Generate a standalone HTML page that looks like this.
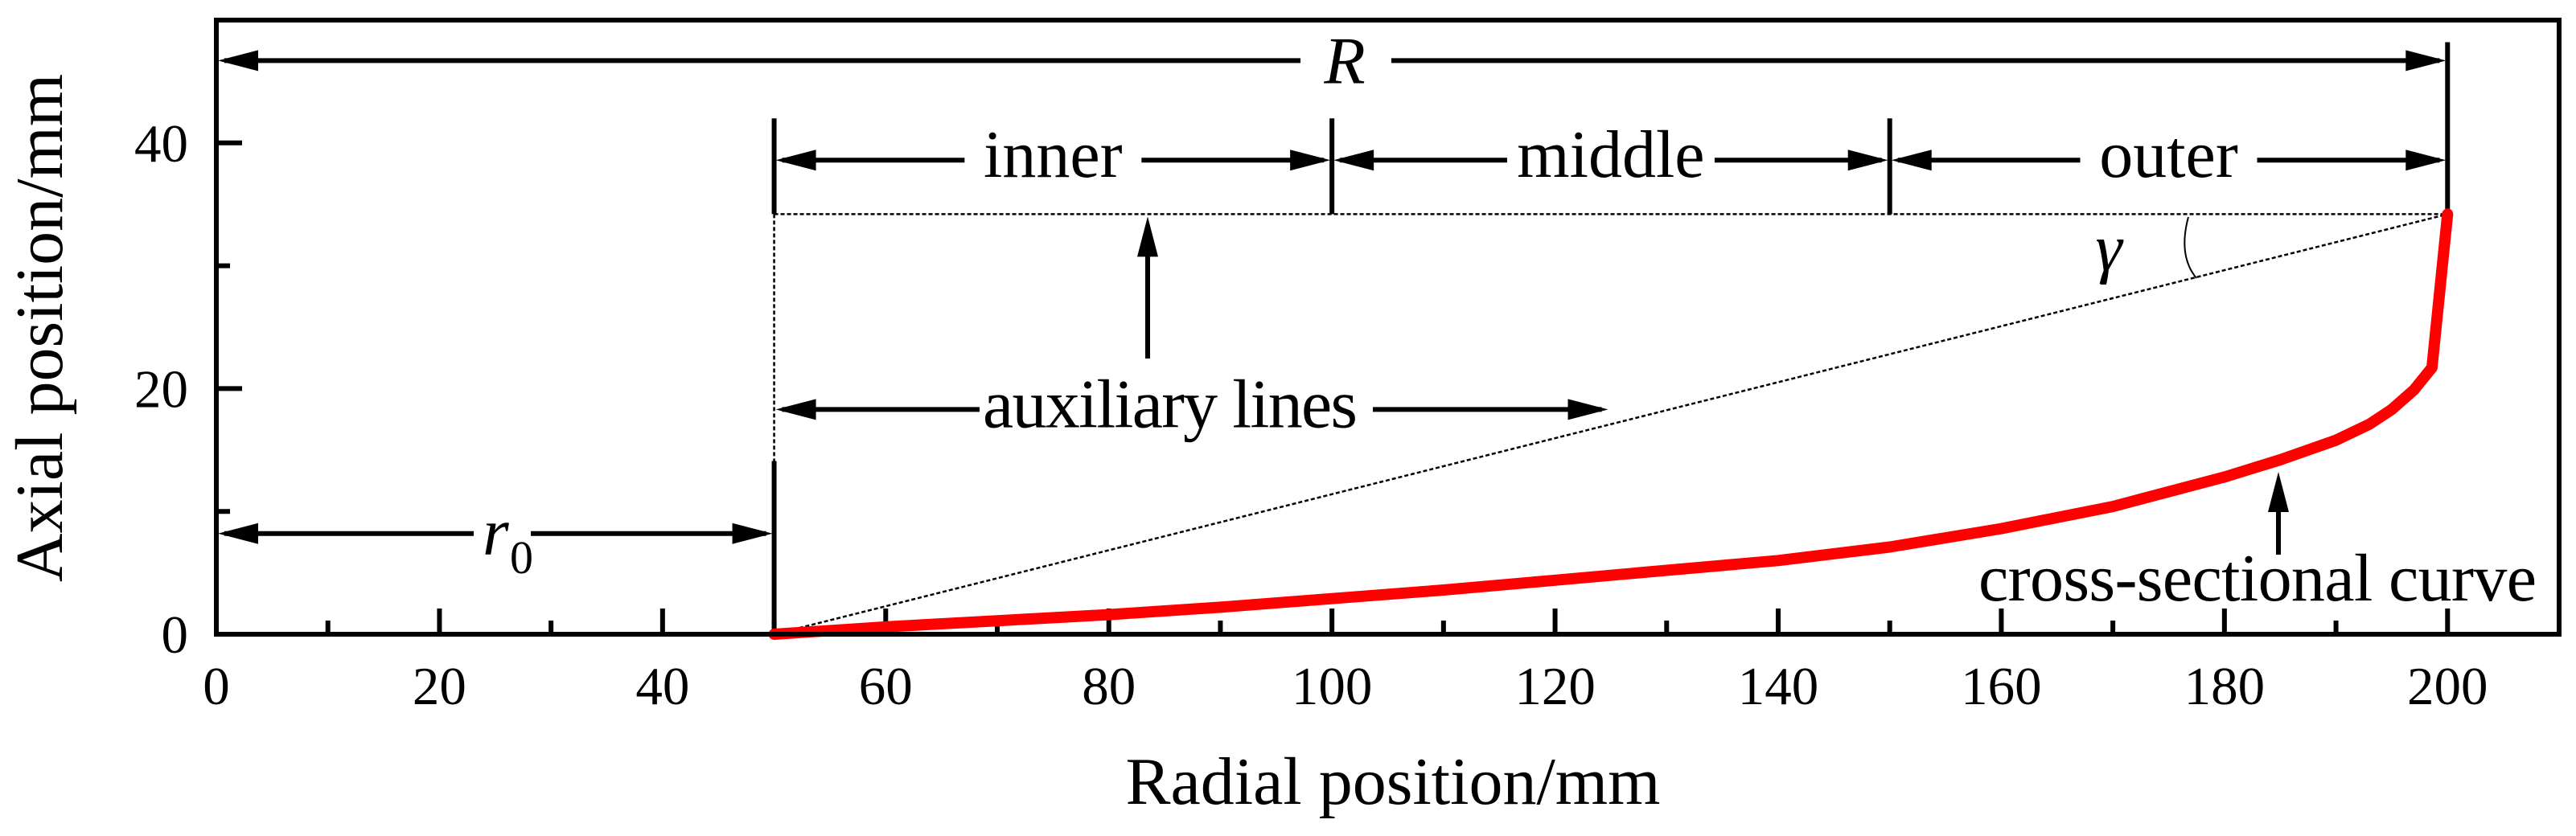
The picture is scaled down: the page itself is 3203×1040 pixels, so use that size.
<!DOCTYPE html>
<html><head><meta charset="utf-8">
<style>
html,body{margin:0;padding:0;background:#fff;}
svg{display:block;}
svg text{font-family:"Liberation Serif","Times New Roman",serif;}
</style></head>
<body>
<svg id="chart" width="3203" height="1040" viewBox="0 0 3203 1040" xmlns="http://www.w3.org/2000/svg">
<rect width="3203" height="1040" fill="#fff"/>
</svg>
<script>
const curveX = [50, 60, 70, 80, 90, 100, 110, 120, 130, 140, 150, 160, 170, 180, 185, 190, 193, 195, 197, 198.6, 200];
const curveY = [0, 0.6, 1.1, 1.6, 2.2, 2.9, 3.6, 4.4, 5.2, 6.0, 7.1, 8.6, 10.4, 12.8, 14.2, 15.8, 17.1, 18.3, 19.9, 21.7, 34.2];
const xTicks = [0, 20, 40, 60, 80, 100, 120, 140, 160, 180, 200];
const xMinor = [10, 30, 50, 70, 90, 110, 130, 150, 170, 190];
const yTicks = [0, 20, 40];
const yMinor = [10, 30];
const segEdges = [50, 100, 150, 200];
const segLabels = ["inner", "middle", "outer"];

const X0 = 269, X1 = 3182, Y0 = 789, Y1 = 25;
const xMin = 0, xMax = 210, yMin = 0, yMax = 50;
const sx = v => X0 + (v - xMin) / (xMax - xMin) * (X1 - X0);
const sy = v => Y0 - (v - yMin) / (yMax - yMin) * (Y0 - Y1);

const svg = document.getElementById('chart');
const NS = 'http://www.w3.org/2000/svg';
const FONT = '"Liberation Serif", "Times New Roman", serif';
function mk(tag, attrs, parent) {
  const e = document.createElementNS(NS, tag);
  for (const k in attrs) e.setAttribute(k, attrs[k]);
  (parent || svg).appendChild(e);
  return e;
}
function txt(str, attrs) { attrs['font-family'] = FONT; const t = mk('text', attrs); t.textContent = str; return t; }
function head(x, y, dir) {
  const L = 50, H = 13;
  let pts;
  if (dir === 'l') pts = `${x},${y} ${x+L},${y-H} ${x+L},${y+H}`;
  else if (dir === 'r') pts = `${x},${y} ${x-L},${y-H} ${x-L},${y+H}`;
  else pts = `${x},${y} ${x-H},${y+L} ${x+H},${y+L}`;
  const p = mk('polygon', {points: pts, fill: '#000'});
  
  
}
function dimArrow(xa, xb, y, gapA, gapB, name) {
  const l1 = mk('line', {x1: xa + 10, y1: y, x2: gapA, y2: y, stroke: '#000', 'stroke-width': 6});
  
  
  const l2 = mk('line', {x1: gapB, y1: y, x2: xb - 10, y2: y, stroke: '#000', 'stroke-width': 6});
  
  
  head(xa + 2, y, 'l'); head(xb - 2, y, 'r');
}

xTicks.forEach(v => {
  const t = mk('line', {x1: sx(v), y1: Y0, x2: sx(v), y2: Y0 - 32, stroke: '#000', 'stroke-width': 6});
  
  
  const l = txt(String(v), {x: sx(v), y: 876, 'font-size': 67, 'text-anchor': 'middle'});
  
  
});
xMinor.forEach(v => {
  const t = mk('line', {x1: sx(v), y1: Y0, x2: sx(v), y2: Y0 - 17, stroke: '#000', 'stroke-width': 6});
  
  
});
yTicks.forEach(v => {
  const t = mk('line', {x1: X0, y1: sy(v), x2: X0 + 32, y2: sy(v), stroke: '#000', 'stroke-width': 6});
  
  
  const l = txt(String(v), {x: 234, y: sy(v) + 23, 'font-size': 67, 'text-anchor': 'end'});
  
  
});
yMinor.forEach(v => {
  const t = mk('line', {x1: X0, y1: sy(v), x2: X0 + 17, y2: sy(v), stroke: '#000', 'stroke-width': 6});
  
  
});

const topY = 34.2;
const d1 = mk('line', {x1: sx(50), y1: sy(topY), x2: sx(200), y2: sy(topY), stroke: '#000', 'stroke-width': 2.5, 'stroke-dasharray': '5,3'});


const d2 = mk('line', {x1: sx(50), y1: sy(topY), x2: sx(50), y2: sy(14), stroke: '#000', 'stroke-width': 2.5, 'stroke-dasharray': '5,3'});


const d3 = mk('line', {x1: sx(50), y1: sy(0), x2: sx(200), y2: sy(topY), stroke: '#000', 'stroke-width': 2.5, 'stroke-dasharray': '5,3'});



const b0 = mk('line', {x1: sx(50), y1: sy(14.1), x2: sx(50), y2: sy(0), stroke: '#000', 'stroke-width': 6});


segEdges.forEach(v => {
  const b = mk('line', {x1: sx(v), y1: sy(v === 200 ? 48.2 : 42), x2: sx(v), y2: sy(topY), stroke: '#000', 'stroke-width': 6});
  
  
});

dimArrow(sx(0), sx(200), sy(46.7), 1617, 1730, 'r-dimension');
const tR = txt('R', {x: 1672, y: sy(46.7) + 28, 'font-size': 84, 'font-style': 'italic', 'text-anchor': 'middle'});



const segY = sy(38.6);
segLabels.forEach((s, i) => {
  const a = segEdges[i], b = segEdges[i + 1];
  const cx = sx((a + b) / 2);
  const w = s.length * 38 + 30;
  dimArrow(sx(a), sx(b), segY, cx - w / 2, cx + w / 2, s + '-dimension');
  const t = txt(s, {x: cx, y: segY + 21, 'font-size': 84, 'text-anchor': 'middle'});
  
  
});

const r0y = sy(8.2);
dimArrow(sx(0), sx(50), r0y, 589, 660, 'r0-dimension');
const tr = txt('r', {x: 600, y: 690, 'font-size': 84, 'font-style': 'italic'});


const tr0 = txt('0', {x: 634, y: 713, 'font-size': 58});



const auxY = sy(18.3);
dimArrow(sx(50), sx(124.9), auxY, 1218, 1707, 'aux-lines-dimension');
const ta = txt('auxiliary lines', {x: 1455, y: auxY + 22, 'font-size': 86, 'text-anchor': 'middle', textLength: 466});



const ux = 1427;
const ul = mk('line', {x1: ux, y1: 446, x2: ux, y2: sy(topY) + 40, stroke: '#000', 'stroke-width': 6});


head(ux, sy(topY) + 3, 'u');

const ga = mk('path', {d: 'M2721,270 Q2708,318 2731,346', fill: 'none', stroke: '#000', 'stroke-width': 2});


const tg = txt('γ', {x: 2622, y: 336, 'font-size': 84, 'font-style': 'italic', 'text-anchor': 'middle'});



const pts = curveX.map((x, i) => sx(x).toFixed(1) + ',' + sy(curveY[i]).toFixed(1)).join(' ');
const curve = mk('polyline', {points: pts, fill: 'none', stroke: '#ff0000', 'stroke-width': 14, 'stroke-linejoin': 'round', 'stroke-linecap': 'round'});



const cx2 = 2833;
const cl = mk('line', {x1: cx2, y1: 690, x2: cx2, y2: 625, stroke: '#000', 'stroke-width': 6});


head(cx2, 587, 'u');
const tc = txt('cross-sectional curve', {x: 2460, y: 747, 'font-size': 84, textLength: 694});



const fr = mk('rect', {x: X0, y: Y1, width: X1 - X0, height: Y0 - Y1, fill: 'none', stroke: '#000', 'stroke-width': 6});



const xt = txt('Radial position/mm', {x: 1732, y: 1000, 'font-size': 84, 'text-anchor': 'middle'});


const yt = txt('Axial position/mm', {x: 0, y: 0, 'font-size': 84, 'text-anchor': 'middle', transform: 'translate(77,408) rotate(-90)'});


</script>
</body></html>
